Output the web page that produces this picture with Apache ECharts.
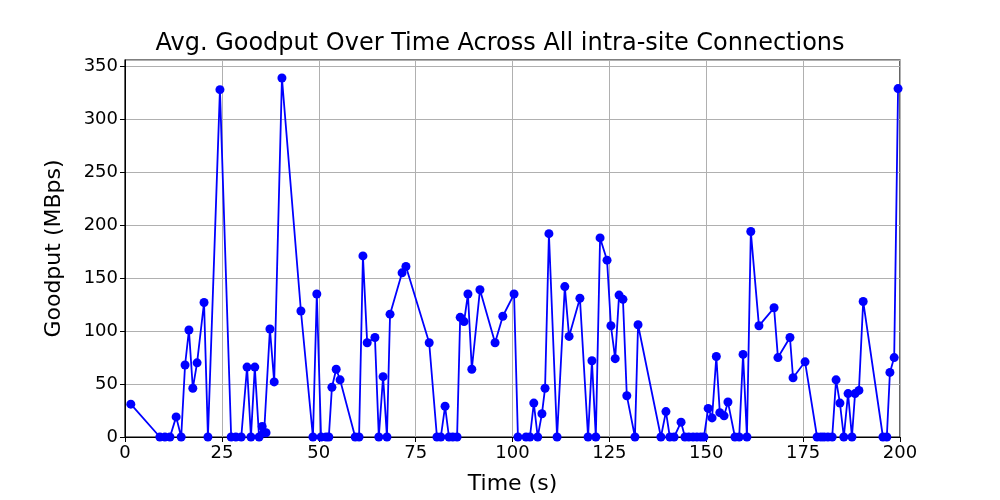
<!DOCTYPE html>
<html><head><meta charset="utf-8">
<script src="https://cdn.jsdelivr.net/npm/echarts@6/dist/echarts.min.js"></script>
<style>html,body{margin:0;padding:0;background:#fff}#c{width:1000px;height:500px}</style>
</head><body><div id="c"></div>
<script>
const times = [1.5,9,10.3,11.6,13.2,14.5,15.5,16.5,17.5,18.6,20.4,21.4,24.5,27.4,28.6,30,31.5,32.5,33.5,34.6,35.4,35.9,36.4,37.4,38.5,40.5,45.4,48.5,49.5,50.6,51.9,52.6,53.4,54.5,55.5,59.4,60.4,61.4,62.5,64.5,65.5,66.6,67.6,68.4,71.5,72.5,78.5,80.5,81.5,82.6,83.6,84.6,85.7,86.5,87.5,88.5,89.5,91.6,95.5,97.5,100.4,101.4,103.5,104.5,105.5,106.5,107.6,108.4,109.4,111.5,113.5,114.6,117.4,119.5,120.5,121.5,122.6,124.4,125.4,126.5,127.5,128.5,129.5,131.6,132.4,138.3,139.6,140.6,141.7,143.5,144.5,145.5,146.6,147.6,148.6,149.4,150.5,151.5,152.6,153.5,154.6,155.6,157.4,158.5,159.5,160.5,161.5,163.6,167.5,168.5,171.6,172.4,175.5,178.6,179.6,180.4,181.4,182.5,183.5,184.5,185.5,186.6,187.6,188.4,189.4,190.5,195.6,196.6,197.4,198.5,199.5];
const goodput = [31,0,0,0,19,0,68,101,46,70,127,0,328,0,0,0,66,0,66,0,10,4,4,102,52,339,119,0,135,0,0,0,47,64,54,0,0,171,89,94,0,57,0,116,155,161,89,0,0,29,0,0,0,113,109,135,64,139,89,114,135,0,0,0,32,0,22,46,192,0,142,95,131,0,72,0,188,167,105,74,134,130,39,0,106,0,24,0,0,14,0,0,0,0,0,0,27,18,76,23,20,33,0,0,78,0,194,105,122,75,94,56,71,0,0,0,0,0,54,32,0,41,0,41,44,128,0,0,61,75,329];
const xTicks = [0,25,50,75,100,125,150,175,200];
const yTicks = [0,50,100,150,200,250,300,350];
const data = times.map((t,i)=>[t,goodput[i]]);
const chart = echarts.init(document.getElementById('c'));
const font = 'DejaVu Sans';
chart.setOption({
  animation:false,
  title:{text:'Avg. Goodput Over Time Across All intra-site Connections',left:'center',top:27,textStyle:{fontFamily:font,fontSize:24,fontWeight:'normal',color:'#000'}},
  grid:{left:125,right:100,top:60,bottom:55,show:true,borderColor:'#000',borderWidth:1.2},
  xAxis:{type:'value',min:0,max:200,interval:25,name:'Time (s)',nameLocation:'middle',nameGap:36,
    nameTextStyle:{fontFamily:font,fontSize:22,color:'#000'},
    axisLine:{lineStyle:{color:'#000'}},axisTick:{show:true,length:5,inside:false,lineStyle:{color:'#000'}},
    axisLabel:{fontFamily:font,fontSize:18,color:'#000',margin:7},
    splitLine:{show:true,lineStyle:{color:'#b0b0b0',width:1}}},
  yAxis:{type:'value',min:0,max:356,interval:50,name:'Goodput (MBps)',nameLocation:'middle',nameGap:60,
    nameTextStyle:{fontFamily:font,fontSize:22,color:'#000'},
    axisLine:{show:true,lineStyle:{color:'#000'}},axisTick:{show:true,length:5,lineStyle:{color:'#000'}},
    axisLabel:{fontFamily:font,fontSize:18,color:'#000',margin:7,showMaxLabel:false,
      formatter:v=>yTicks.includes(v)?String(v):''},
    splitLine:{show:true,lineStyle:{color:'#b0b0b0',width:1}}},
  series:[{type:'line',data:data,symbol:'circle',symbolSize:9,showSymbol:true,
    lineStyle:{color:'#0000ff',width:1.8},itemStyle:{color:'#0000ff'}}]
});
</script></body></html>
